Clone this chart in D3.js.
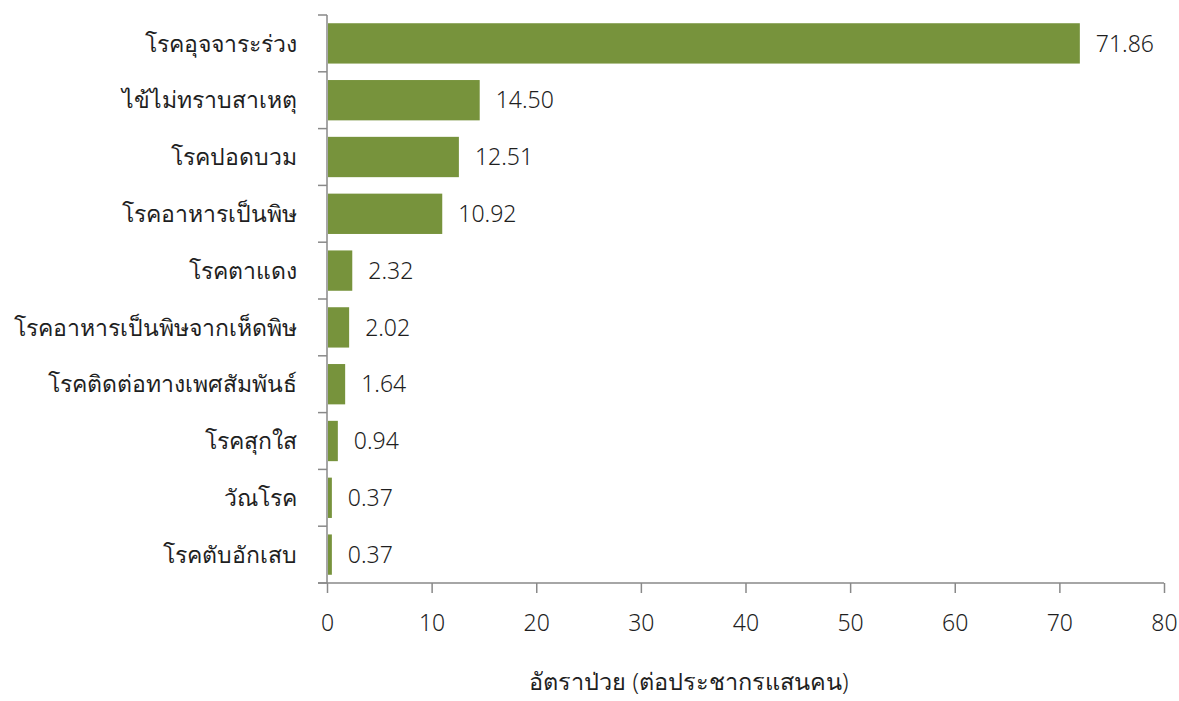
<!DOCTYPE html>
<html><head><meta charset="utf-8">
<script src="https://cdn.jsdelivr.net/npm/d3@7"></script>
<style>body{margin:0;background:#fff;} text{font-family:"Noto Sans","DejaVu Sans",sans-serif;fill:#1f1f1f;}</style>
</head><body>
<svg id="c" width="1179" height="701"></svg>
<script>
const categories = ["โรคอุจจาระร่วง","ไข้ไม่ทราบสาเหตุ","โรคปอดบวม","โรคอาหารเป็นพิษ","โรคตาแดง","โรคอาหารเป็นพิษจากเห็ดพิษ","โรคติดต่อทางเพศสัมพันธ์","โรคสุกใส","วัณโรค","โรคตับอักเสบ"];
const values = [71.86,14.50,12.51,10.92,2.32,2.02,1.64,0.94,0.37,0.37];
const xTicks = [0,10,20,30,40,50,60,70,80];
const axisTitle = "อัตราป่วย (ต่อประชากรแสนคน)";

const svg = d3.select("#c");
const m = {l:327, r:1164, t:15, b:583};
const x = d3.scaleLinear().domain([0,80]).range([m.l,m.r]);
const y = d3.scaleBand().domain(categories).range([m.t,m.b]).paddingInner(0.29).paddingOuter(0.145);
const axisColor = "#898989";
const ff = '"Noto Sans","DejaVu Sans",sans-serif';

svg.selectAll("rect.bar").data(values).join("rect")
  .attr("x", x(0)+1).attr("y",(d,i)=>y(categories[i]))
  .attr("width", d=>x(d)-x(0)).attr("height", y.bandwidth())
  .attr("fill","#77933C");

svg.selectAll("text.val").data(values).join("text")
  .attr("x", d=>x(d)+17).attr("y",(d,i)=>y(categories[i])+y.bandwidth()/2)
  .attr("dy","0.36em").attr("font-size",23).attr("font-weight",300).text(d=>d.toFixed(2));

svg.append("line").attr("x1",m.l).attr("x2",m.l).attr("y1",m.t).attr("y2",m.b).attr("stroke",axisColor).attr("stroke-width",1.5);
const step = (m.b-m.t)/categories.length;
d3.range(categories.length+1).forEach(i=>{
  const yy = m.t + i*step;
  svg.append("line").attr("x1",m.l-9).attr("x2",m.l).attr("y1",yy).attr("y2",yy).attr("stroke",axisColor).attr("stroke-width",1.5);
});
svg.selectAll("text.cat").data(categories).join("text")
  .attr("x", m.l-30).attr("y", d=>y(d)+y.bandwidth()/2).attr("dy","0.36em")
  .attr("text-anchor","end").attr("font-size",23).attr("font-weight",300).text(d=>d);

const xa = svg.append("g").attr("transform",`translate(0,${m.b})`)
  .call(d3.axisBottom(x).tickValues(xTicks).tickSize(10).tickPadding(22).tickFormat(d3.format("d")));
xa.select(".domain").attr("stroke",axisColor).attr("stroke-width",1.5).attr("d",`M${m.l-9},0H${m.r}`);
xa.selectAll(".tick line").attr("stroke",axisColor).attr("stroke-width",1.5);
xa.selectAll(".tick text").attr("font-size",23).attr("font-weight",300).attr("fill","#1f1f1f").style("font-family",ff);

svg.append("text").attr("x",689).attr("y",690).attr("text-anchor","middle").attr("font-size",23.5).attr("font-weight",300).text(axisTitle);
</script>
</body></html>
